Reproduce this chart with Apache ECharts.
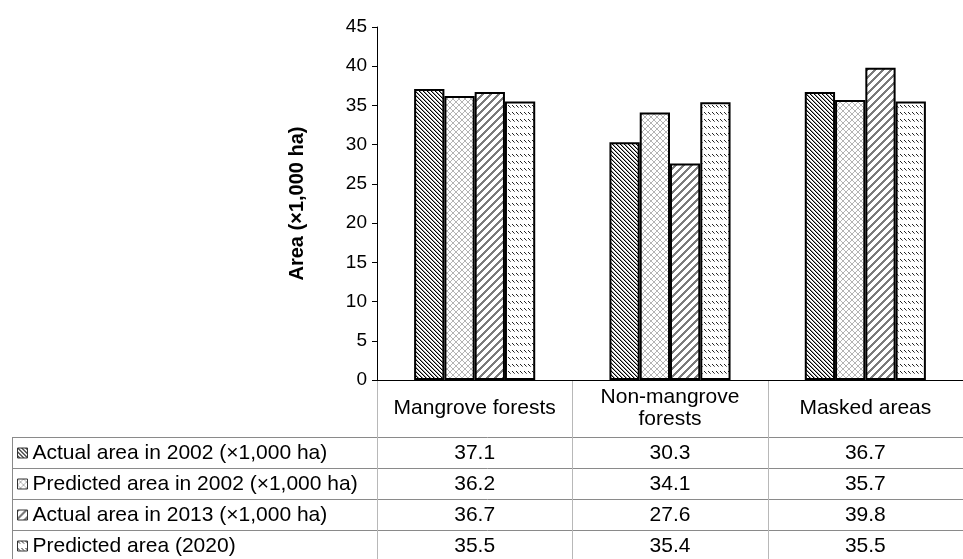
<!DOCTYPE html>
<html>
<head>
<meta charset="utf-8">
<script src="https://cdn.jsdelivr.net/npm/echarts@6/dist/echarts.min.js"></script>
<style>
html,body{margin:0;padding:0;background:#fff;}
#chart{width:963px;height:559px;}
</style>
</head>
<body>
<div id="chart"></div>
<script>
// ---- data ----
var categories = ['Mangrove forests', 'Non-mangrove forests', 'Masked areas'];
var seriesNames = [
  'Actual area in 2002 (\u00d71,000 ha)',
  'Predicted area in 2002 (\u00d71,000 ha)',
  'Actual area in 2013 (\u00d71,000 ha)',
  'Predicted area (2020)'
];
var actual2002 = [37.1, 30.3, 36.7];
var predicted2002 = [36.2, 34.1, 35.7];
var actual2013 = [36.7, 27.6, 39.8];
var predicted2020 = [35.5, 35.4, 35.5];
var yTicks = [0, 5, 10, 15, 20, 25, 30, 35, 40, 45];
var yTitle = 'Area (\u00d71,000 ha)';

var seriesData = [actual2002, predicted2002, actual2013, predicted2020];

// ---- patterns ----
function makeTile(w, h, draw) {
  var c = document.createElement('canvas');
  c.width = w; c.height = h;
  var ctx = c.getContext('2d');
  ctx.fillStyle = '#fff';
  ctx.fillRect(0, 0, w, h);
  draw(ctx, w, h);
  return c;
}
var pat1 = makeTile(4, 4, function (ctx) {
  ctx.fillStyle = '#000';
  for (var i = 0; i < 4; i++) ctx.fillRect(i, i, 1, 1);
  ctx.fillStyle = '#999';
  for (var i = 0; i < 4; i++) ctx.fillRect((i + 1) % 4, i, 1, 1);
});
var pat2 = makeTile(6, 6, function (ctx) {
  ctx.fillStyle = '#b4b4b4';
  for (var i = 0; i < 6; i++) {
    ctx.fillRect(i, i, 1, 1);
    ctx.fillRect(5 - i, i, 1, 1);
  }
});
var pat3 = makeTile(8, 8, function (ctx) {
  ctx.fillStyle = '#7a7a7a';
  for (var i = 0; i < 8; i++) {
    ctx.fillRect((7 - i + 8) % 8, i, 1, 1);
    ctx.fillRect((8 - i + 8) % 8, i, 1, 1);
    ctx.fillRect((9 - i + 8) % 8, i, 1, 1);
  }
});
var pat4 = makeTile(4, 7, function (ctx) {
  ctx.fillStyle = '#222';
  ctx.fillRect(0, 0, 1, 1);
  ctx.fillRect(1, 1, 1, 1);
  ctx.fillStyle = '#777';
  ctx.fillRect(2, 2, 1, 1);
});
var patterns = [pat1, pat2, pat3, pat4];

var FONT = '"Liberation Sans", Arial, sans-serif';
var FS = 21;

var chart = echarts.init(document.getElementById('chart'), null, {renderer: 'canvas'});

var series = seriesData.map(function (d, i) {
  return {
    name: seriesNames[i],
    type: 'bar',
    data: d,
    barGap: '0%',
    barCategoryGap: '38%',
    itemStyle: {
      color: {image: patterns[i], repeat: 'repeat'},
      borderColor: '#000',
      borderWidth: 2
    },
    emphasis: {disabled: true}
  };
});

var headerBottom = 437;
var rowH = 31;

var legends = seriesNames.map(function (n, r) {
  return {
    orient: 'vertical',
    left: 17,
    top: headerBottom + r * rowH + 4,
    padding: 0,
    itemWidth: 10,
    itemHeight: 10,
    itemGap: 3,
    icon: 'rect',
    selectedMode: false,
    itemStyle: {borderColor: '#333', borderWidth: 1},
    textStyle: {fontFamily: FONT, fontSize: FS, color: '#000', lineHeight: 24},
    data: [n]
  };
});

chart.setOption({
  animation: false,
  backgroundColor: '#fff',
  grid: {left: 377, top: 27, right: -12, bottom: 179, containLabel: false},
  legend: legends,
  xAxis: {
    type: 'category',
    data: categories,
    axisLine: {lineStyle: {color: '#000', width: 1}},
    axisTick: {show: false},
    axisLabel: {
      interval: 0,
      hideOverlap: false,
      fontFamily: FONT, fontSize: FS, color: '#000',
      margin: 28, verticalAlign: 'middle', lineHeight: 22,
      formatter: function (v) { return v.replace('Non-mangrove ', 'Non-mangrove\n'); }
    }
  },
  yAxis: {
    type: 'value',
    min: yTicks[0],
    max: yTicks[yTicks.length - 1],
    interval: 5,
    name: yTitle,
    nameLocation: 'middle',
    nameGap: 70,
    nameRotate: 90,
    nameTextStyle: {fontFamily: FONT, fontSize: 20, fontWeight: 'bold', color: '#000'},
    axisLine: {show: true, lineStyle: {color: '#000', width: 1}},
    axisTick: {show: true, length: 5, lineStyle: {color: '#000'}},
    splitLine: {show: false},
    axisLabel: {fontFamily: FONT, fontSize: 19, color: '#000', margin: 10}
  },
  series: series
});

// ---- data table (drawn with graphic elements) ----
var axisY = chart.convertToPixel({yAxisIndex: 0}, 0);
var band = chart.convertToPixel({xAxisIndex: 0}, 1) - chart.convertToPixel({xAxisIndex: 0}, 0);
var axisX = chart.convertToPixel({xAxisIndex: 0}, 0) - band / 2;
var tableLeft = 12;
var W = 963, H = 559;

var g = [];
for (var r = 0; r < seriesNames.length; r++) {
  var y = headerBottom + r * rowH + 0.5;
  g.push({type: 'line', shape: {x1: tableLeft, y1: y, x2: W, y2: y}, style: {stroke: '#8a8a8a', lineWidth: 1}, silent: true});
}
g.push({type: 'line', shape: {x1: tableLeft + 0.5, y1: headerBottom, x2: tableLeft + 0.5, y2: H}, style: {stroke: '#8a8a8a', lineWidth: 1}, silent: true});
for (var c = 0; c < categories.length; c++) {
  var x = Math.round(axisX + c * band) + 0.5;
  g.push({type: 'line', shape: {x1: x, y1: axisY + 1, x2: x, y2: H}, style: {stroke: '#b8b8b8', lineWidth: 1}, silent: true});
}
for (var r = 0; r < seriesData.length; r++) {
  for (var c = 0; c < categories.length; c++) {
    g.push({
      type: 'text',
      x: chart.convertToPixel({xAxisIndex: 0}, c),
      y: headerBottom + r * rowH + rowH / 2 + 1,
      style: {text: seriesData[r][c].toFixed(1), fontFamily: FONT, fontSize: FS, fill: '#000', align: 'center', verticalAlign: 'middle'},
      silent: true
    });
  }
}
chart.setOption({graphic: g});
</script>
</body>
</html>
